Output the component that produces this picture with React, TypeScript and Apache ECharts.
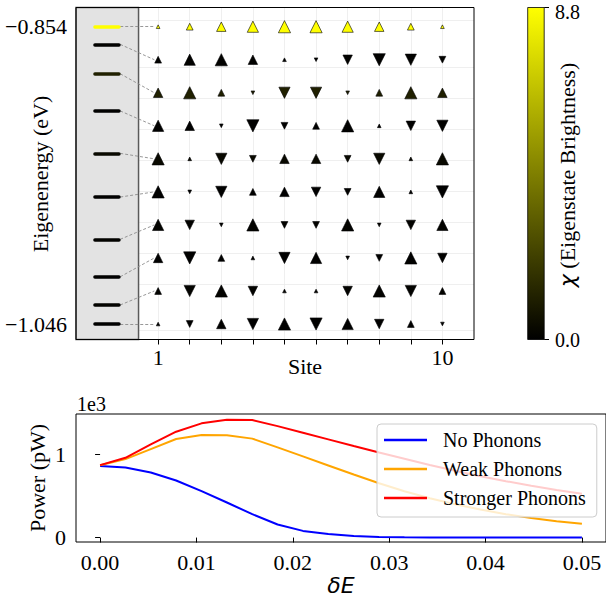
import { useEffect, useRef } from 'react';
import * as echarts from 'echarts';

// ---------- Top panel data ----------
const sites = [1, 2, 3, 4, 5, 6, 7, 8, 9, 10];
const siteTickLabels = [1, 10];
// eigenstate rows (top to bottom), equally spaced display rows
const rowEnergy = [-0.854, -0.87533, -0.89667, -0.918, -0.93933, -0.96067, -0.982, -1.00333, -1.02467, -1.046];
// actual eigenenergies (levels drawn in the grey panel)
const levelEnergy = [-0.854, -0.8654, -0.8844, -0.9084, -0.9358, -0.964, -0.9913, -1.0155, -1.0337, -1.046];
// eigenstate brightness chi for each row
const brightness = [8.8, 0.08, 1.1, 0.05, 0.3, 0.05, 0.1, 0.05, 0.1, 0.02];
const brightnessMax = 8.8;
const colorbarTickLabels = ['8.8', '0.0'];
const energyTickLabels = [-1.046, -0.854];
// wavefunction amplitudes per row (sign -> up/down triangle, magnitude -> size)
const amp1 = [0.28, 0.54, 0.76, 0.91, 0.99, 0.99, 0.91, 0.76, 0.54, 0.28];
const amp2 = [0.54, 0.91, 0.99, 0.76, 0.28, -0.28, -0.76, -0.99, -0.91, -0.54];
const amp3 = [0.76, 0.99, 0.54, -0.28, -0.91, -0.91, -0.28, 0.54, 0.99, 0.76];
const amp4 = [0.91, 0.76, -0.28, -0.99, -0.54, 0.54, 0.99, 0.28, -0.76, -0.91];
const amp5 = [0.99, 0.28, -0.91, -0.54, 0.76, 0.76, -0.54, -0.91, 0.28, 0.99];
const amp6 = [0.99, -0.28, -0.91, 0.54, 0.76, -0.76, -0.54, 0.91, 0.28, -0.99];
const amp7 = [0.91, -0.76, -0.28, 0.99, -0.54, -0.54, 0.99, -0.28, -0.76, 0.91];
const amp8 = [0.76, -0.99, 0.54, 0.28, -0.91, 0.91, -0.28, -0.54, 0.99, -0.76];
const amp9 = [0.54, -0.91, 0.99, -0.76, 0.28, 0.28, -0.76, 0.99, -0.91, 0.54];
const amp10 = [0.28, -0.54, 0.76, -0.91, 0.99, -0.99, 0.91, -0.76, 0.54, -0.28];
const amplitudes = [amp1, amp2, amp3, amp4, amp5, amp6, amp7, amp8, amp9, amp10];

// ---------- Bottom panel data ----------
const deltaE = [0, 0.00263, 0.00526, 0.00789, 0.01053, 0.01316, 0.01579, 0.01842, 0.02105, 0.02368,
  0.02632, 0.02895, 0.03158, 0.03421, 0.03684, 0.03947, 0.04211, 0.04474, 0.04737, 0.05];
const noPhonons = [856, 840, 780, 684, 556, 420, 280, 156, 80, 44, 20, 8, 3, 1, 0, 0, 0, 0, 0, 0];
const weakPhonons = [866, 940, 1060, 1180, 1228, 1225, 1185, 1080, 972, 864, 756, 650, 555, 470, 398, 335, 280, 234, 196, 165];
const strongerPhonons = [868, 955, 1116, 1268, 1368, 1412, 1408, 1335, 1255, 1176, 1096, 1020, 945, 870, 800, 735, 675, 620, 570, 525];
const seriesNames = ['No Phonons', 'Weak Phonons', 'Stronger Phonons'];
const deltaETicks = [0, 0.01, 0.02, 0.03, 0.04, 0.05];
const powerTicks = [0, 1000];

const SERIF = 'Liberation Serif';

function chiColor(b: number): string {
  const t = Math.max(0, Math.min(1, b / brightnessMax));
  const c = Math.round(255 * t);
  return `rgb(${c},${c},0)`;
}

function fmtEnergy(v: number): string {
  return (v < 0 ? '\u2212' : '') + Math.abs(v).toFixed(3);
}

const Y0MIN = -1.056;
const Y0MAX = -0.8416;
const X0MIN = -1.6;
const X0MAX = 11;
const BOX_RIGHT = 0.38;
const LEVEL_X0 = -1.0;
const LEVEL_X1 = -0.24;
const DASH_X0 = -0.2;
const DASH_X1 = 0.88;

function buildOption(): any {
  const triangles: any[] = [];
  amplitudes.forEach((row, r) => {
    row.forEach((a, i) => {
      const w = 12 * Math.abs(a) + 0.3;
      triangles.push({
        value: [sites[i], rowEnergy[r]],
        symbolSize: [w, w],
        symbolRotate: a < 0 ? 180 : 0,
        itemStyle: { color: chiColor(brightness[r]) },
      });
    });
  });

  const levelLines = levelEnergy.map((e, r) => ({
    coords: [[LEVEL_X0, e], [LEVEL_X1, e]],
    lineStyle: { color: chiColor(brightness[r]) },
  }));
  const connectors = levelEnergy.map((e, r) => ({
    coords: [[DASH_X0, e], [DASH_X1, rowEnergy[r]]],
  }));

  const gridLines = [
    ...sites.map((s) => ({ xAxis: s })),
    ...rowEnergy.map((e) => ({ yAxis: e })),
  ];

  const tickStyle = { color: '#000', width: 1 };
  const labelStyle = { fontFamily: SERIF, fontSize: 22, color: '#000' };

  const lineData = (ys: number[]) => deltaE.map((x, i) => [x, ys[i]]);

  return {
    animation: false,
    backgroundColor: '#fff',
    grid: [
      { left: 76, top: 7.5, width: 398, height: 332, show: true, borderColor: '#000', borderWidth: 1, backgroundColor: 'transparent', z: 10 },
      { left: 76, top: 414, width: 532, height: 128, show: true, borderColor: '#000', borderWidth: 1, backgroundColor: 'transparent', z: 10 },
    ],
    xAxis: [
      {
        gridIndex: 0, type: 'value', min: X0MIN, max: X0MAX,
        axisLine: { show: false }, splitLine: { show: false },
        axisTick: { show: true, customValues: sites, length: 5, lineStyle: tickStyle },
        axisLabel: { customValues: siteTickLabels, margin: 7, ...labelStyle, formatter: (v: number) => String(v) },
      },
      {
        gridIndex: 1, type: 'value', min: -0.0025, max: 0.0525,
        axisLine: { show: false }, splitLine: { show: false },
        axisTick: { show: true, customValues: deltaETicks, length: 5, lineStyle: tickStyle },
        axisLabel: { customValues: deltaETicks, margin: 9, ...labelStyle, formatter: (v: number) => v.toFixed(2) },
      },
    ],
    yAxis: [
      {
        gridIndex: 0, type: 'value', min: Y0MIN, max: Y0MAX,
        axisLine: { show: false }, splitLine: { show: false },
        axisTick: { show: true, customValues: energyTickLabels, length: 5, lineStyle: tickStyle },
        axisLabel: { customValues: energyTickLabels, margin: 9, ...labelStyle, formatter: fmtEnergy },
      },
      {
        gridIndex: 1, type: 'value', min: -53, max: 1480,
        axisLine: { show: false }, splitLine: { show: false },
        axisTick: { show: true, customValues: powerTicks, length: 5, lineStyle: tickStyle },
        axisLabel: { customValues: powerTicks, margin: 10, ...labelStyle, formatter: (v: number) => String(Math.round(v / 1000)) },
      },
    ],
    legend: {
      data: seriesNames,
      orient: 'vertical',
      left: 377,
      top: 424,
      icon: 'rect',
      itemWidth: 43,
      itemHeight: 2.5,
      itemGap: 9,
      padding: [6, 11, 9, 7],
      backgroundColor: 'rgba(255,255,255,0.8)',
      borderColor: '#cccccc',
      borderWidth: 1,
      borderRadius: 4,
      textStyle: { fontFamily: SERIF, fontSize: 20, color: '#000', lineHeight: 20, padding: [0, 0, 0, 11] },
      z: 20,
    },
    series: [
      {
        type: 'scatter',
        name: 'states',
        xAxisIndex: 0,
        yAxisIndex: 0,
        symbol: 'triangle',
        z: 5,
        itemStyle: { borderColor: '#000', borderWidth: 0.6, opacity: 1 },
        emphasis: { disabled: true },
        silent: true,
        data: triangles,
        markLine: {
          silent: true,
          z: 1,
          symbol: ['none', 'none'],
          label: { show: false },
          lineStyle: { color: '#ebebeb', width: 0.8, type: 'solid' },
          emphasis: { disabled: true },
          data: gridLines,
        },
        markArea: {
          silent: true,
          z: 2,
          itemStyle: { color: '#e3e3e3', borderColor: '#5a5a5a', borderWidth: 1.5 },
          label: { show: false },
          data: [[{ xAxis: X0MIN, yAxis: Y0MIN }, { xAxis: BOX_RIGHT, yAxis: Y0MAX }]],
        },
      },
      {
        type: 'lines',
        name: 'connectors',
        coordinateSystem: 'cartesian2d',
        xAxisIndex: 0,
        yAxisIndex: 0,
        z: 3,
        silent: true,
        lineStyle: { color: '#8c8c8c', width: 0.9, type: [3, 2], opacity: 1 },
        data: connectors,
      },
      {
        type: 'lines',
        name: 'levels',
        coordinateSystem: 'cartesian2d',
        xAxisIndex: 0,
        yAxisIndex: 0,
        z: 4,
        silent: true,
        lineStyle: { width: 3.5, cap: 'round', opacity: 1 },
        data: levelLines,
      },
      {
        type: 'line', name: seriesNames[0], xAxisIndex: 1, yAxisIndex: 1,
        symbol: 'none', color: '#0000ff', lineStyle: { color: '#0000ff', width: 2 },
        data: lineData(noPhonons), z: 3,
      },
      {
        type: 'line', name: seriesNames[1], xAxisIndex: 1, yAxisIndex: 1,
        symbol: 'none', color: '#ffa500', lineStyle: { color: '#ffa500', width: 2 },
        data: lineData(weakPhonons), z: 3,
      },
      {
        type: 'line', name: seriesNames[2], xAxisIndex: 1, yAxisIndex: 1,
        symbol: 'none', color: '#ff0000', lineStyle: { color: '#ff0000', width: 2 },
        data: lineData(strongerPhonons), z: 3,
      },
    ],
    graphic: [
      { type: 'text', x: 305, y: 366, style: { text: 'Site', font: `22px "${SERIF}"`, fill: '#000', textAlign: 'center', textVerticalAlign: 'middle' } },
      { type: 'text', x: 40, y: 174, rotation: Math.PI / 2, style: { text: 'Eigenenergy (eV)', font: `22px "${SERIF}"`, fill: '#000', textAlign: 'center', textVerticalAlign: 'middle' } },
      { type: 'text', x: 37, y: 478, rotation: Math.PI / 2, style: { text: 'Power (pW)', font: `22px "${SERIF}"`, fill: '#000', textAlign: 'center', textVerticalAlign: 'middle' } },
      { type: 'text', x: 77, y: 404, style: { text: '1e3', font: `20px "${SERIF}"`, fill: '#000', textAlign: 'left', textVerticalAlign: 'middle' } },
      { type: 'text', x: 341, y: 585, style: { text: '\u03B4E', font: 'italic 22px "DejaVu Sans"', fill: '#000', textAlign: 'center', textVerticalAlign: 'middle' } },
      // colorbar
      {
        type: 'rect', x: 527.7, y: 7.5, shape: { x: 0, y: 0, width: 16.5, height: 332 },
        style: {
          fill: { type: 'linear', x: 0, y: 0, x2: 0, y2: 1, colorStops: [{ offset: 0, color: chiColor(brightnessMax) }, { offset: 1, color: chiColor(0) }] },
          stroke: '#000', lineWidth: 0.8,
        },
      },
      { type: 'line', shape: { x1: 544.2, y1: 7.5, x2: 549, y2: 7.5 }, style: { stroke: '#000', lineWidth: 1 } },
      { type: 'line', shape: { x1: 544.2, y1: 339.5, x2: 549, y2: 339.5 }, style: { stroke: '#000', lineWidth: 1 } },
      { type: 'text', x: 555, y: 11.5, style: { text: colorbarTickLabels[0], font: `20px "${SERIF}"`, fill: '#000', textAlign: 'left', textVerticalAlign: 'middle' } },
      { type: 'text', x: 555, y: 340, style: { text: colorbarTickLabels[1], font: `20px "${SERIF}"`, fill: '#000', textAlign: 'left', textVerticalAlign: 'middle' } },
      {
        type: 'text', x: 567, y: 175, rotation: Math.PI / 2,
        style: {
          text: '{c|\u03C7} (Eigenstate Brightness)',
          font: `22px "${SERIF}"`, fill: '#000', textAlign: 'center', textVerticalAlign: 'middle',
          rich: { c: { fontFamily: 'DejaVu Sans', fontStyle: 'italic', fontSize: 22, fill: '#000' } },
        },
      },
    ],
  };
}

export default function App() {
  const ref = useRef<HTMLDivElement>(null);
  useEffect(() => {
    document.body.style.margin = '0';
    const chart = echarts.init(ref.current!, null, { renderer: 'svg' });
    chart.setOption(buildOption());
    return () => chart.dispose();
  }, []);
  return <div ref={ref} style={{ width: 606, height: 601 }} />;
}
